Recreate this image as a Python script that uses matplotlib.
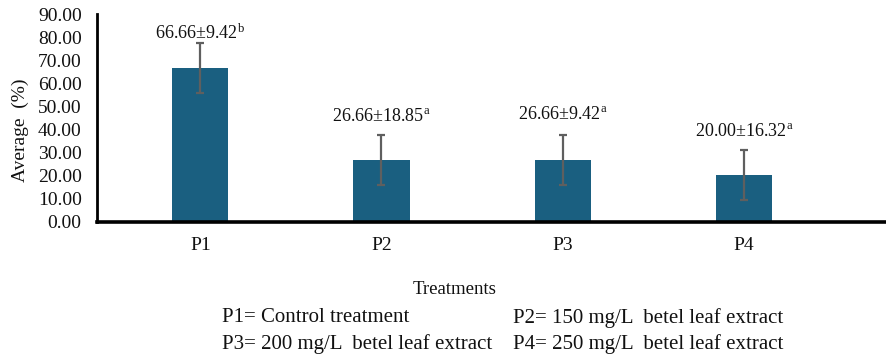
import numpy as np
import matplotlib
matplotlib.use('Agg')
import matplotlib.pyplot as plt

# data
treatments = ['P1', 'P2', 'P3', 'P4']
average = [66.66, 26.66, 26.66, 20.00]
err_drawn = [10.8, 10.7, 10.7, 10.8]      # error bar half-length as drawn
sd_text = ['9.42', '18.85', '9.42', '16.32']
letters = ['b', 'a', 'a', 'a']
yticks = np.arange(0, 91, 10)

plt.rcParams['font.family'] = ['Liberation Serif', 'DejaVu Serif']
plt.rcParams['mathtext.fontset'] = 'custom'
plt.rcParams['mathtext.rm'] = 'Liberation Serif'
plt.rcParams['mathtext.it'] = 'Liberation Serif:italic'

fig = plt.figure(figsize=(8.87, 3.6), dpi=100)
ax = fig.add_axes([97/887, 1-221.5/360, 1-97/887, (221.5-14)/360])

x = np.arange(len(treatments))
bar_col = '#1a5f80'
ax.bar(x, average, width=0.31, color=bar_col, zorder=2)
ax.errorbar(x, average, yerr=err_drawn, fmt='none', ecolor='#5f5f5f',
            elinewidth=1.6, capsize=2.7, capthick=1.6, zorder=3)

# value labels above the bars (pixel gap above error bar top)
gaps = [0, 10, 12, 10]
for i in range(len(x)):
    txt = '%.2f±%s$^{\\mathrm{%s}}$' % (average[i], sd_text[i], letters[i])
    ax.annotate(txt, (x[i], average[i] + err_drawn[i]), xytext=(0, gaps[i]),
                textcoords='offset pixels', ha='center', va='bottom',
                fontsize=13, color='#111111')

ax.set_xlim(-0.57, 3.79)
ax.set_ylim(0, 90)
ax.set_yticks(yticks)
ax.set_yticklabels(['%.2f' % v for v in yticks], fontsize=14, color='#111111')
ax.set_xticks(x)
ax.set_xticklabels(treatments, fontsize=14, color='#111111')
ax.tick_params(axis='y', length=0, pad=11)
ax.tick_params(axis='x', length=0, pad=11)

for s in ['top', 'right']:
    ax.spines[s].set_visible(False)
ax.spines['left'].set_linewidth(2)
ax.spines['bottom'].set_linewidth(2.6)
ax.spines['left'].set_color('black')
ax.spines['bottom'].set_color('black')

fig.text(20/887, 1-130/360, 'Average  (%)', rotation=90, ha='center',
         va='center', fontsize=14, color='#111111')
fig.text(455/887, 1-289/360, 'Treatments', ha='center', va='center',
         fontsize=13.5, color='#111111')

legend_lines = [
    ('P1= Control treatment', 'P2= 150 mg/L  betel leaf extract'),
    ('P3= 200 mg/L  betel leaf extract', 'P4= 250 mg/L  betel leaf extract'),
]
fig.text(222/887, 1-318/360, legend_lines[0][0], ha='left', va='center',
         fontsize=15, color='#111111')
fig.text(783/887, 1-318/360, legend_lines[0][1], ha='right', va='center',
         fontsize=15, color='#111111')
fig.text(222/887, 1-344/360, legend_lines[1][0], ha='left', va='center',
         fontsize=15, color='#111111')
fig.text(783/887, 1-344/360, legend_lines[1][1], ha='right', va='center',
         fontsize=15, color='#111111')

fig.savefig('out.png', dpi=100)
